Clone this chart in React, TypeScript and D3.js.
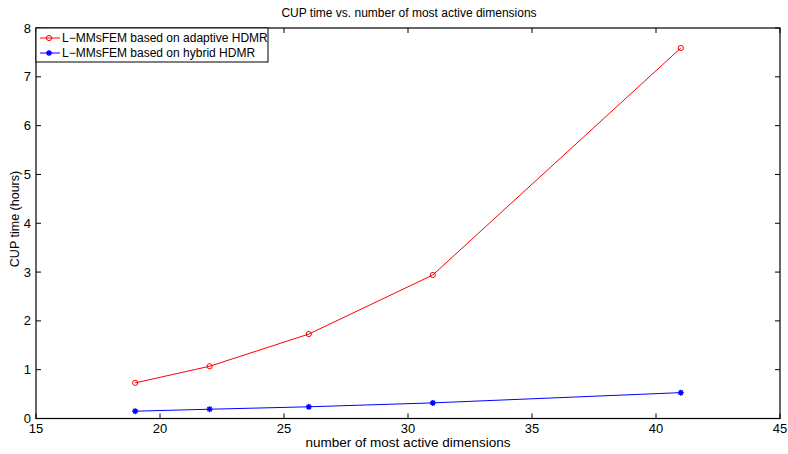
import React from "react";
import * as d3 from "d3";

const dims = [19, 22, 26, 31, 41];
const adaptive = [0.73, 1.07, 1.73, 2.94, 7.59];
const hybrid = [0.15, 0.19, 0.24, 0.32, 0.53];
const xTicks = [15, 20, 25, 30, 35, 40, 45];
const yTicks = [0, 1, 2, 3, 4, 5, 6, 7, 8];

const W = 788, H = 454;
const m = { left: 36, right: 780, top: 28, bottom: 418.5 };
const font = "Liberation Sans, Arial, Helvetica, sans-serif";

export default function App() {
  const x = d3.scaleLinear().domain([15, 45]).range([m.left, m.right]);
  const y = d3.scaleLinear().domain([0, 8]).range([m.bottom, m.top]);
  const line = d3.line<number>().x((_, i) => x(dims[i])).y((d) => y(d));
  const tl = 5;
  const star = (cx: number, cy: number, r: number) => {
    const parts: string[] = [];
    for (let k = 0; k < 4; k++) {
      const a = (k * Math.PI) / 4;
      parts.push(`M${cx - r * Math.cos(a)},${cy - r * Math.sin(a)}L${cx + r * Math.cos(a)},${cy + r * Math.sin(a)}`);
    }
    return parts.join("");
  };
  return (
    <svg width={W} height={H} style={{ position: "absolute", left: 0, top: 0, background: "#fff" }} fontFamily={font}>
      <rect x={0} y={0} width={W} height={H} fill="#fff" />
      <text x={409} y={17} textAnchor="middle" fontSize={12}>CUP time vs. number of most active dimensions</text>
      {xTicks.map((t) => (
        <g key={"x" + t}>
          <line x1={x(t)} x2={x(t)} y1={m.bottom} y2={m.bottom - tl} stroke="#000" />
          <line x1={x(t)} x2={x(t)} y1={m.top} y2={m.top + tl} stroke="#000" />
          <text x={x(t)} y={433} textAnchor="middle" fontSize={13}>{t}</text>
        </g>
      ))}
      {yTicks.map((t) => (
        <g key={"y" + t}>
          <line x1={m.left} x2={m.left + tl} y1={y(t)} y2={y(t)} stroke="#000" />
          <line x1={m.right} x2={m.right - tl} y1={y(t)} y2={y(t)} stroke="#000" />
          <text x={31} y={y(t) + 4.5} textAnchor="end" fontSize={13}>{t}</text>
        </g>
      ))}
      <rect x={m.left} y={m.top} width={m.right - m.left} height={m.bottom - m.top} fill="none" stroke="#000" strokeWidth={1.2} />
      <text x={408} y={447} textAnchor="middle" fontSize={13.5}>number of most active dimensions</text>
      <text transform={`translate(19,219) rotate(-90)`} textAnchor="middle" fontSize={12.5}>CUP time (hours)</text>
      <path d={line(adaptive) || ""} fill="none" stroke="#ff0000" strokeWidth={1} />
      {adaptive.map((v, i) => (
        <circle key={"a" + i} cx={x(dims[i])} cy={y(v)} r={2.6} fill="none" stroke="#ff0000" strokeWidth={1} />
      ))}
      <path d={line(hybrid) || ""} fill="none" stroke="#0000ff" strokeWidth={1} />
      {hybrid.map((v, i) => (
        <path key={"h" + i} d={star(x(dims[i]), y(v), 3)} stroke="#0000ff" strokeWidth={1.4} />
      ))}
      <g>
        <rect x={m.left} y={m.top} width={232} height={34} fill="#fff" stroke="#000" strokeWidth={1} />
        <line x1={40} x2={60} y1={38} y2={38} stroke="#ff0000" />
        <circle cx={49} cy={38} r={2.6} fill="none" stroke="#ff0000" />
        <text x={62} y={42} fontSize={12}>L−MMsFEM based on adaptive HDMR</text>
        <line x1={40} x2={60} y1={53} y2={53} stroke="#0000ff" />
        <path d={star(49, 53, 3)} stroke="#0000ff" strokeWidth={1.4} />
        <text x={62} y={57} fontSize={12}>L−MMsFEM based on hybrid HDMR</text>
      </g>
    </svg>
  );
}
